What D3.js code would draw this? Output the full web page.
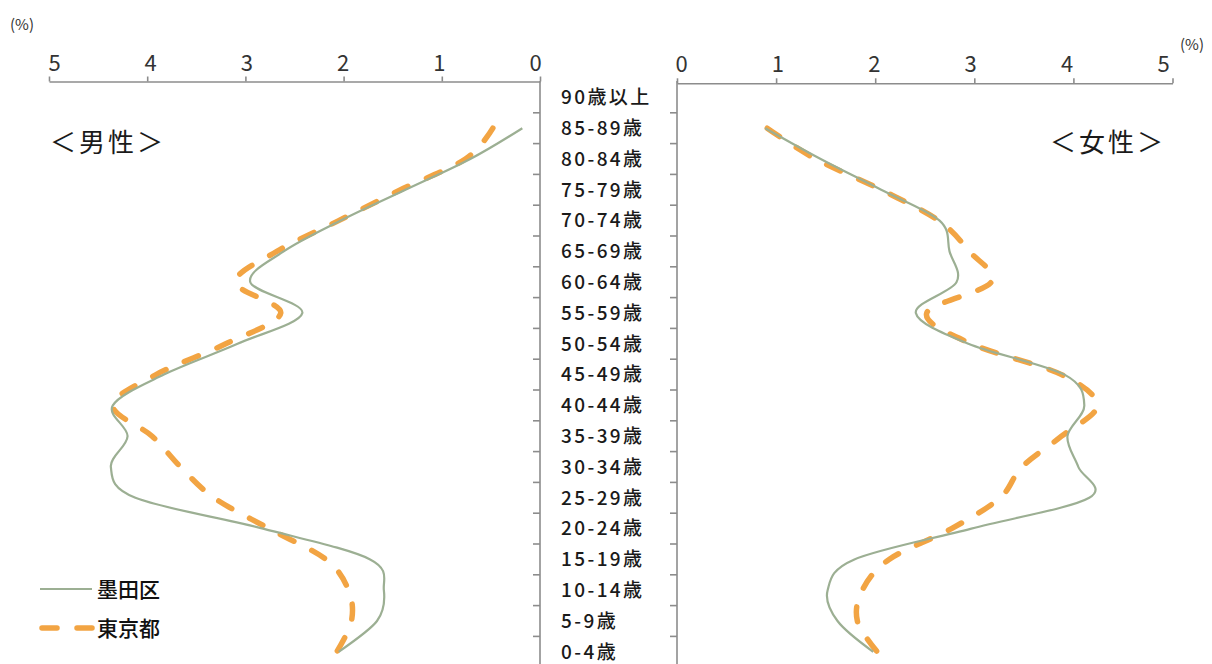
<!DOCTYPE html>
<html><head><meta charset="utf-8">
<script src="https://cdn.jsdelivr.net/npm/d3@7"></script>
<style>
html,body{margin:0;padding:0;background:#fff;}
svg{display:block;font-family:"Noto Sans CJK JP","Noto Sans",sans-serif;}
</style></head>
<body>
<svg id="chart" width="1212" height="664"></svg>
<script>
const categories = ["90歳以上","85-89歳","80-84歳","75-79歳","70-74歳","65-69歳","60-64歳","55-59歳","50-54歳","45-49歳","40-44歳","35-39歳","30-34歳","25-29歳","20-24歳","15-19歳","10-14歳","5-9歳","0-4歳"];
const maleSumida   = [null,0.18,0.71,1.37,2.03,2.61,2.95,2.42,3.08,3.83,4.35,4.20,4.37,4.12,2.82,1.73,1.59,1.66,2.05];
const maleTokyo    = [null,0.48,0.76,1.42,2.05,2.68,3.10,2.64,3.20,3.91,4.35,3.95,3.66,3.32,2.76,2.18,1.95,1.92,2.07];
const femaleSumida = [null,0.89,1.45,2.06,2.65,2.75,2.82,2.41,2.94,3.91,4.11,3.94,4.05,4.16,2.97,1.79,1.52,1.62,1.98];
const femaleTokyo  = [null,0.91,1.40,2.06,2.64,2.95,3.17,2.52,2.97,3.88,4.24,3.88,3.48,3.26,2.77,2.14,1.87,1.82,2.02];
const xTicks = [0,1,2,3,4,5];
const seriesNames = ["墨田区","東京都"];
const panelTitles = ["＜男性＞","＜女性＞"];
const unitLabel = "(%)";

const svg = d3.select("#chart");
const axisColor = "#8c8c8c";
const green = "#9caf93", orange = "#f2a443";

const y = d3.scaleBand().domain(categories).range([82, 82 + 19*30.8]);
const xL = d3.scaleLinear().domain([0,5]).range([540,49]);
const xR = d3.scaleLinear().domain([0,5]).range([677,1172.5]);
const lblL = d3.scaleLinear().domain([0,5]).range([535,54]);
const lblR = d3.scaleLinear().domain([0,5]).range([681,1163]);

function topAxis(scale, lbl, yPos){
  const g = svg.append("g").attr("transform",`translate(0,${yPos})`)
    .call(d3.axisTop(scale).tickValues(xTicks).tickFormat(d3.format("d")).tickSize(5).tickPadding(6).tickSizeOuter(0));
  g.select(".domain").attr("stroke",axisColor).attr("stroke-width",1.6);
  g.selectAll(".tick line").attr("stroke",axisColor).attr("stroke-width",1.6);
  g.selectAll(".tick text").attr("x",d=>lbl(d)-scale(d)).attr("fill","#333").attr("font-size",22)
    .attr("font-family","'Liberation Sans Narrow','Noto Sans CJK JP',sans-serif");
}
topAxis(xL, lblL, 81.5);
topAxis(xR, lblR, 83.3);

function vAxis(xPos){
  svg.append("line").attr("x1",xPos).attr("x2",xPos).attr("y1",y.range()[0]-1).attr("y2",664)
    .attr("stroke",axisColor).attr("stroke-width",1.6);
  svg.append("g").selectAll("line").data(categories.slice(1)).join("line")
    .attr("x1",xPos-7).attr("x2",xPos).attr("y1",d=>y(d)).attr("y2",d=>y(d))
    .attr("stroke",axisColor).attr("stroke-width",1.6);
}
vAxis(540);
vAxis(677);

svg.append("g").selectAll("text").data(categories).join("text")
  .attr("x",561).attr("y",d=>y(d)+y.bandwidth()/2).attr("dy","0.36em")
  .attr("font-size",19).attr("font-weight",500).attr("letter-spacing",2.4).attr("fill","#1a1a1a")
  .text(d=>d);

function drawLine(vals, xs, color, dashed){
  const line = d3.line().defined(d=>d.v!=null).x(d=>xs(d.v)).y(d=>y(d.c)+y.bandwidth()/2)
    .curve(d3.curveCardinal.tension(0));
  const data = vals.map((v,i)=>({v, c:categories[i]}));
  const p = svg.append("path").datum(data).attr("d",line).attr("fill","none").attr("stroke",color);
  if(dashed){ p.attr("stroke-width",5.5).attr("stroke-dasharray","15,20").attr("stroke-linecap","round"); }
  else { p.attr("stroke-width",2.2); }
}
drawLine(maleTokyo, xL, orange, true);
drawLine(maleSumida, xL, green, false);
drawLine(femaleTokyo, xR, orange, true);
drawLine(femaleSumida, xR, green, false);

svg.append("text").attr("x",108).attr("y",152).attr("text-anchor","middle").attr("font-size",26).attr("letter-spacing",3).attr("fill","#1a1a1a").text(panelTitles[0]);
svg.append("text").attr("x",1108).attr("y",152).attr("text-anchor","middle").attr("font-size",26).attr("letter-spacing",3).attr("fill","#1a1a1a").text(panelTitles[1]);

svg.append("text").attr("x",10).attr("y",30).attr("font-size",15).attr("fill","#333").text(unitLabel);
svg.append("text").attr("x",1180).attr("y",50).attr("font-size",15).attr("fill","#333").text(unitLabel);

const lg = svg.append("g");
lg.append("line").attr("x1",40).attr("x2",92).attr("y1",589).attr("y2",589).attr("stroke",green).attr("stroke-width",2.2);
lg.append("line").attr("x1",42).attr("x2",92).attr("y1",628).attr("y2",628).attr("stroke",orange).attr("stroke-width",5.5).attr("stroke-dasharray","15,20").attr("stroke-linecap","round");
lg.append("text").attr("x",97).attr("y",589).attr("dy","0.36em").attr("font-size",21).attr("font-weight",500).attr("fill","#111").text(seriesNames[0]);
lg.append("text").attr("x",97).attr("y",628).attr("dy","0.36em").attr("font-size",21).attr("font-weight",500).attr("fill","#111").text(seriesNames[1]);
</script>
</body></html>
